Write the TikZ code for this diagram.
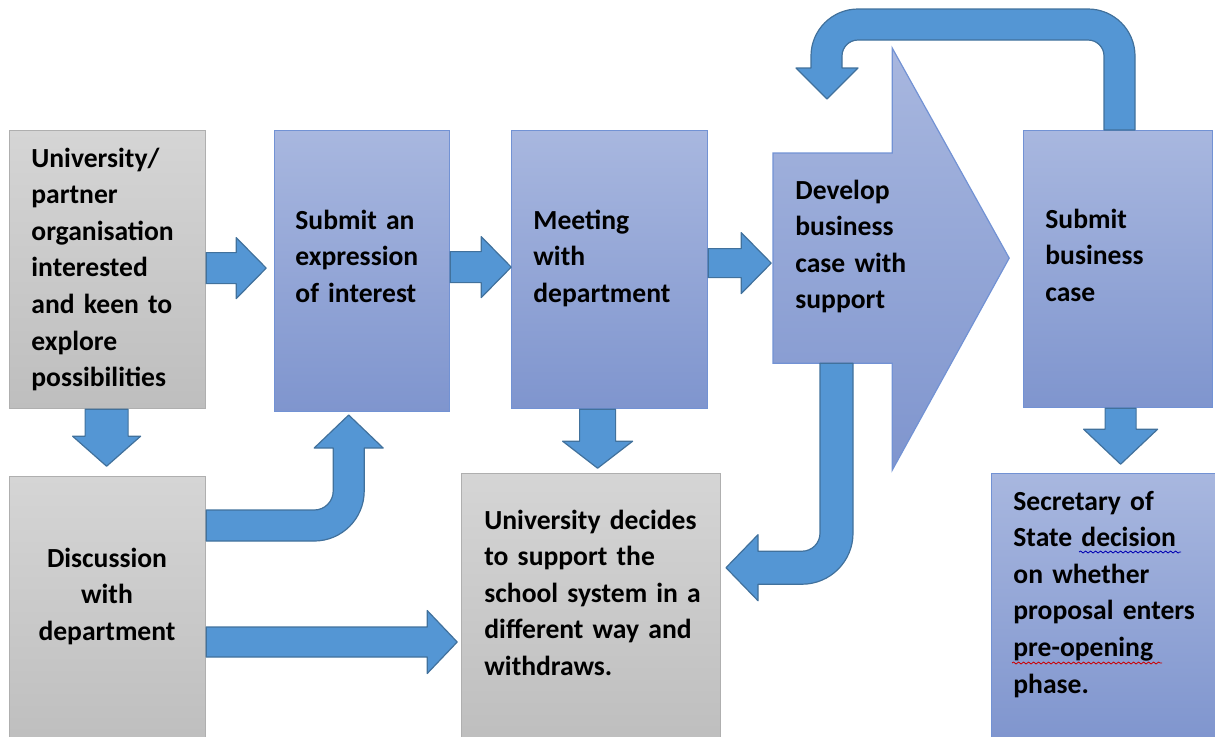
\documentclass[tikz,border=0pt]{standalone}
\usepackage{fontspec}
\setmainfont{Carlito}
\usepackage{tikz}
\usetikzlibrary{calc}
\usetikzlibrary{positioning}
\usetikzlibrary{decorations.pathmorphing}
\definecolor{bluetop}{RGB}{168,183,223}
\definecolor{bluebot}{RGB}{127,149,206}
\definecolor{blueline}{RGB}{114,146,212}
\definecolor{graytop}{RGB}{213,213,213}
\definecolor{graybot}{RGB}{190,190,190}
\definecolor{grayline}{RGB}{175,175,175}
\definecolor{arrowfill}{RGB}{84,150,212}
\definecolor{arrowline}{RGB}{65,113,156}
\tikzstyle{box}=[draw,anchor=north west,inner sep=0pt,line width=0.6pt]
\tikzstyle{bluebox}=[box,draw=blueline,top color=bluetop,bottom color=bluebot]
\tikzstyle{graybox}=[box,draw=grayline,top color=graytop,bottom color=graybot]
\tikzstyle{blockarrow}=[fill=arrowfill,draw=arrowline,line width=0.6pt,line join=round]
\tikzstyle{boxtext}=[anchor=base west,inner sep=0pt,text width=7cm,align=left]
% start, length, shaft half width, head half width, head length
\newcommand{\rightblock}[5]{\draw[blockarrow] #1 ++(0,#3) -- ++({#2-#5},0) -- ++(0,{#4-#3}) -- ++(#5,{-#4}) -- ++({-#5},{-#4}) -- ++(0,{#4-#3}) -- ++({#5-#2},0) -- cycle;}
\newcommand{\downblock}[5]{\draw[blockarrow] #1 ++(#3,0) -- ++(0,{#2-#5}) -- ++({#4-#3},0) -- ++({-#4},#5) -- ++({-#4},{-#5}) -- ++({#4-#3},0) -- ++(0,{#5-#2}) -- cycle;}

\begin{document}
\begin{tikzpicture}[x=0.5pt,y=-0.5pt,font=\fontsize{13.8}{18.3}\selectfont\bfseries]
\useasboundingbox (0,0) rectangle (1215,736);
\clip (0,0) rectangle (1215,736);

\node [graybox,minimum width=98pt,minimum height=139pt] (uni) at (9,130) {};
\node [graybox,minimum width=98pt,minimum height=135pt] (disc) at (9,476) {};
\node [bluebox,minimum width=87.5pt,minimum height=140.5pt] (eoi) at (274,130) {};
\node [bluebox,minimum width=98pt,minimum height=139pt] (meet) at (511,130) {};
\node [box,draw=none,minimum width=59pt,minimum height=104.5pt] (dev) at (773,153) {};
\node [bluebox,minimum width=94.5pt,minimum height=138.5pt] (subm) at (1023,130) {};
\node [bluebox,minimum width=120pt,minimum height=135pt] (sos) at (991,473) {};
\node [graybox,minimum width=129.5pt,minimum height=135pt] (wd) at (461,473) {};

% the big arrow shape
\shade[top color=bluetop,bottom color=bluebot,draw=blueline,line width=0.6pt]
  (dev.north west) -- (dev.north east) -- ++(0,-105) -- ($(dev.east)+(117,0)$)
  -- ($(dev.south east)+(0,107)$) -- (dev.south east) -- (dev.south west) -- cycle;

\node [boxtext] (uniT) at (31,167) {University/\\partner\\organisation\\interested\\and keen to\\explore\\possibilities};
\node [boxtext] (eoiT) at (295,229) {Submit an\\expression\\of interest};
\node [boxtext] (meetT) at (533,229) {Meeting\\with\\department};
\node [boxtext] (devT) at (795,199) {Develop\\business\\case with\\support};
\node [boxtext] (submT) at (1045,228) {Submit\\business\\case};
\node [boxtext] (sosT) at (1013,510) {Secretary of\\State decision\\on whether\\proposal enters\\pre-opening\\phase.};
\node [boxtext,anchor=base,text width=4cm,align=center] (discT) at (107,567) {Discussion\\with\\department};
\node [boxtext] (wdT) at (484,529) {University decides\\to support the\\school system in a\\different way and\\withdraws.};

% spelling marks
\draw[blue!70!black,line width=0.4pt,decorate,decoration={snake,amplitude=0.5pt,segment length=2.5pt}]
  ($(sosT.base west)+(66,42)$) -- ++(102,0);
\draw[red!80!black,line width=0.4pt,decorate,decoration={snake,amplitude=0.5pt,segment length=2.5pt}]
  ($(sosT.base west)+(-1,153)$) -- ++(150,0);

% straight arrows
\rightblock{($(uni.east)+(0,-1.5)$)}{60}{15.5}{30.5}{30}
\rightblock{($(eoi.east)+(0,-4)$)}{61}{15.5}{30.5}{30}
\rightblock{($(meet.east)+(0,-6.5)$)}{63}{14.5}{30.5}{30}
\rightblock{($(disc.north east)+(0,166)$)}{251}{15}{31.5}{30}
\downblock{($(uni.south)+(-1,0)$)}{57}{21.5}{34}{30}
\downblock{($(meet.south)+(-12,0)$)}{59}{18}{35}{27}
\downblock{($(subm.south)+(2.5,0)$)}{56}{15.5}{37}{35}

% bent arrows
\draw[blockarrow] ($(disc.north east)+(0,65)$)
  -- ++(108,0) arc[start angle=90,end angle=0,radius=50]
  -- ++(0,-43) -- ++(19,0) -- ++(-34.5,-33) -- ++(-34.5,33) -- ++(19,0)
  -- ++(0,43) arc[start angle=0,end angle=90,radius=19] -- ++(-108,0) -- cycle;
\draw[blockarrow] ($(dev.south west)+(80,0)$)
  -- ++(0,170) arc[start angle=0,end angle=90,radius=51]
  -- ++(-44,0) -- ++(0,16.5) -- ++(-32,-33) -- ++(32,-33) -- ++(0,16.5)
  -- ++(44,0) arc[start angle=90,end angle=0,radius=18] -- ++(0,-170) -- cycle;
\draw[blockarrow] ($(subm.north west)+(112,0)$)
  -- ++(0,-74) arc[start angle=0,end angle=-90,radius=47]
  -- ++(-230,0) arc[start angle=-90,end angle=-180,radius=47]
  -- ++(0,12) -- ++(-15,0) -- ++(31,31) -- ++(31,-31) -- ++(-16,0)
  -- ++(0,-12) arc[start angle=180,end angle=270,radius=16]
  -- ++(230,0) arc[start angle=270,end angle=360,radius=16] -- ++(0,74) -- cycle;
\end{tikzpicture}
\end{document}
